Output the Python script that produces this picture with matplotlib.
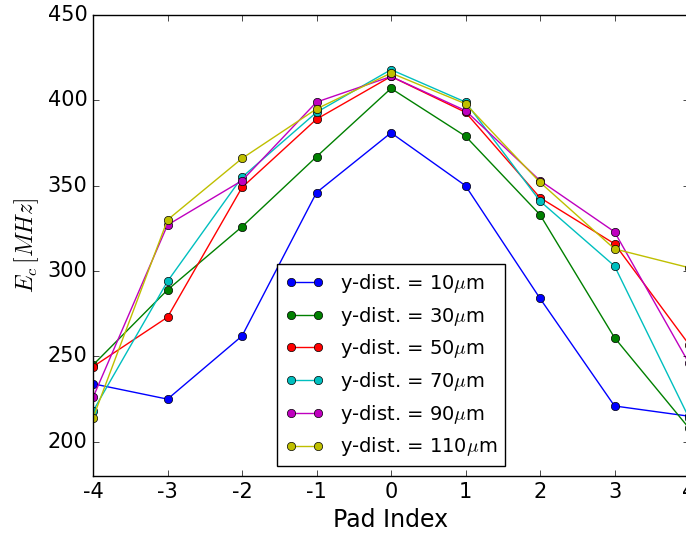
import numpy as np
from matplotlib import pyplot as plt

plt.style.use('classic')
plt.rcParams['axes.unicode_minus'] = False

#%% datos
pad = [-4, -3, -2, -1, 0, 1, 2, 3, 4]
ec_10 = [234, 225, 262, 346, 381, 350, 284, 221, 215]
ec_30 = [245, 289, 326, 367, 407, 379, 333, 261, 208]
ec_50 = [244, 273, 349, 389, 414, 393, 343, 316, 257]
ec_70 = [218, 294, 355, 393, 418, 399, 341, 303, 214]
ec_90 = [226, 327, 353, 399, 414, 394, 353, 323, 246]
ec_110 = [214, 330, 366, 395, 416, 398, 352, 313, 302]

series = [ec_10, ec_30, ec_50, ec_70, ec_90, ec_110]
dists = [10, 30, 50, 70, 90, 110]
colores = ['b', 'g', 'r', 'c', 'm', 'y']

#%% grafico
fig = plt.figure(figsize=(6.86, 5.36), dpi=100)
ax = fig.add_axes([0.1356, 0.112, 0.8688, 0.860])
for ec, d, c in zip(series, dists, colores):
    ax.plot(pad, ec, 'o-', color=c, label="y-dist. = %d$\\mu$m" % d)

ax.set_xlim(-4, 4)
ax.set_ylim(180, 450)
ax.set_xticks(pad)
ax.set_yticks([200, 250, 300, 350, 400, 450])
ax.tick_params(labelsize=15)
ax.set_xlabel("Pad Index", fontsize=17)
ax.set_ylabel("$E_c\\,[MHz]$", fontsize=17)
ax.legend(loc='lower center', fontsize=14)

plt.savefig("out.png", dpi=100)
